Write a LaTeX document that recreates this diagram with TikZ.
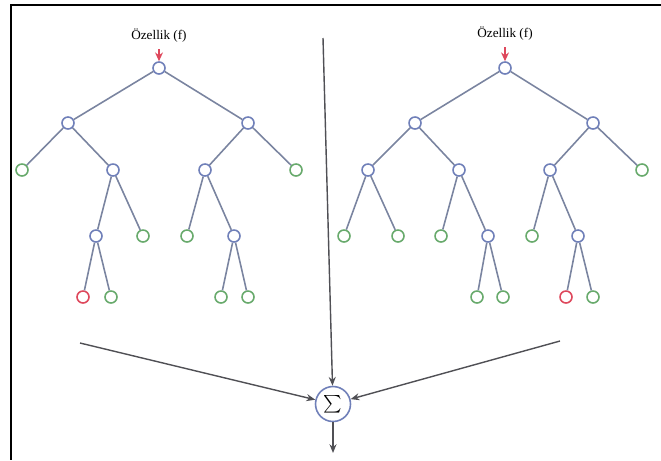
\documentclass[tikz,border=0pt]{standalone}
\usepackage{fontspec}
\setmainfont{Liberation Serif}
\usetikzlibrary{arrows.meta}

\definecolor{edgegray}{RGB}{122,132,160}
\definecolor{innerblue}{RGB}{112,128,185}
\definecolor{leafgreen}{RGB}{104,170,108}
\definecolor{leafred}{RGB}{222,72,92}
\definecolor{arrowgray}{RGB}{80,80,85}

\begin{document}
\begin{tikzpicture}[x=0.02cm, y=-0.02cm,
		inner/.style={draw=innerblue, fill=white, circle, line width=0.9pt, inner sep=0pt, minimum size=0.24cm},
		leaf/.style={draw=leafgreen, fill=white, circle, line width=0.9pt, inner sep=0pt, minimum size=0.24cm},
		badleaf/.style={draw=leafred, fill=white, circle, line width=0.9pt, inner sep=0pt, minimum size=0.24cm},
		branch/.style={draw=edgegray, line width=0.9pt},
		flow/.style={draw=arrowgray, line width=0.8pt, -{Stealth[length=5pt, width=4pt]}},
		feat/.style={font=\fontsize{7.5}{9}\selectfont, inner sep=1pt}]
		\useasboundingbox (0, 0) rectangle (661, 460);
		% open frame: top and left edges only
		\draw[line width=1.3pt] (661, 5) -- (11, 5) -- (11, 460);

		% left tree
		\node[feat] (L_label) at (159, 36) {Özellik (f)};
		\node[inner] (L) at (159, 68) {};
		\node[inner] (L_0) at (68, 123) {};
		\node[inner] (L_1) at (248, 123) {};
		\node[leaf] (L_00) at (22, 170) {};
		\node[inner] (L_01) at (113, 170) {};
		\node[inner] (L_010) at (96, 236) {};
		\node[leaf] (L_011) at (143, 236) {};
		\node[badleaf] (L_0100) at (83, 297) {};
		\node[leaf] (L_0101) at (111, 297) {};
		\node[inner] (L_10) at (205, 170) {};
		\node[leaf] (L_11) at (296, 170) {};
		\node[leaf] (L_100) at (187, 236) {};
		\node[inner] (L_101) at (234, 236) {};
		\node[leaf] (L_1010) at (221, 297) {};
		\node[leaf] (L_1011) at (248, 297) {};
		\draw[branch] (L) -- (L_0) (L) -- (L_1);
		\draw[branch] (L_0) -- (L_00) (L_0) -- (L_01);
		\draw[branch] (L_01) -- (L_010) (L_01) -- (L_011);
		\draw[branch] (L_010) -- (L_0100) (L_010) -- (L_0101);
		\draw[branch] (L_1) -- (L_10) (L_1) -- (L_11);
		\draw[branch] (L_10) -- (L_100) (L_10) -- (L_101);
		\draw[branch] (L_101) -- (L_1010) (L_101) -- (L_1011);
		\coordinate (L_in) at (159, 49);
		\draw[draw=leafred, line width=0.8pt, -{Stealth[length=5pt, width=4.5pt]}] (L_in) -- (L);

		% right tree
		\node[feat] (R_label) at (505, 34) {Özellik (f)};
		\node[inner] (R) at (505, 68) {};
		\node[inner] (R_0) at (415, 123) {};
		\node[inner] (R_1) at (593, 123) {};
		\node[inner] (R_00) at (368, 170) {};
		\node[inner] (R_01) at (459, 170) {};
		\node[leaf] (R_000) at (344, 236) {};
		\node[leaf] (R_001) at (398, 236) {};
		\node[leaf] (R_010) at (441, 236) {};
		\node[inner] (R_011) at (488, 236) {};
		\node[leaf] (R_0110) at (477, 297) {};
		\node[leaf] (R_0111) at (503, 297) {};
		\node[inner] (R_10) at (550, 170) {};
		\node[leaf] (R_11) at (642, 170) {};
		\node[leaf] (R_100) at (532, 236) {};
		\node[inner] (R_101) at (578, 236) {};
		\node[badleaf] (R_1010) at (566, 297) {};
		\node[leaf] (R_1011) at (593, 297) {};
		\draw[branch] (R) -- (R_0) (R) -- (R_1);
		\draw[branch] (R_0) -- (R_00) (R_0) -- (R_01);
		\draw[branch] (R_00) -- (R_000) (R_00) -- (R_001);
		\draw[branch] (R_01) -- (R_010) (R_01) -- (R_011);
		\draw[branch] (R_011) -- (R_0110) (R_011) -- (R_0111);
		\draw[branch] (R_1) -- (R_10) (R_1) -- (R_11);
		\draw[branch] (R_10) -- (R_100) (R_10) -- (R_101);
		\draw[branch] (R_101) -- (R_1010) (R_101) -- (R_1011);
		\coordinate (R_in) at (505, 47);
		\draw[draw=leafred, line width=0.8pt, -{Stealth[length=5pt, width=4.5pt]}] (R_in) -- (R);

		% summing node
		\node[draw=innerblue, fill=white, circle, line width=0.9pt, inner sep=0pt, minimum size=0.7cm, font=\small] (sum) at (333, 404) {$\sum$};
		\coordinate (top_in) at (323, 38);
		\coordinate (left_in) at (80, 343);
		\coordinate (right_in) at (560, 341);
		\coordinate (out) at (333, 453);
		\draw[flow] (top_in) -- (sum);
		\draw[flow] (left_in) -- (sum);
		\draw[flow] (right_in) -- (sum);
		\draw[flow] (sum) -- (out);
	\end{tikzpicture}
\end{document}
